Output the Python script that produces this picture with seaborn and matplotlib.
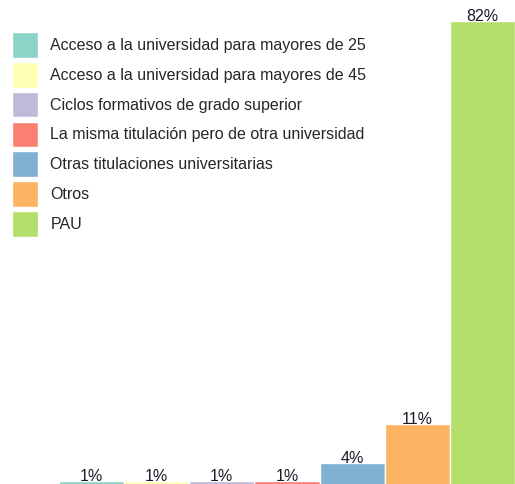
import numpy as np
import matplotlib
matplotlib.use("Agg")
import matplotlib.pyplot as plt
from matplotlib.patches import Patch
import seaborn as sns
import pandas as pd

categorias = ["Acceso a la universidad para mayores de 25",
              "Acceso a la universidad para mayores de 45",
              "Ciclos formativos de grado superior",
              "La misma titulación pero de otra universidad",
              "Otras titulaciones universitarias",
              "Otros",
              "PAU"]
porcentajes = [0.7, 0.7, 0.7, 0.7, 3.9, 10.8, 82.4]
etiquetas = ["1%", "1%", "1%", "1%", "4%", "11%", "82%"]

sns.set_style("white")
plt.rcParams['font.family'] = ['Liberation Sans', 'DejaVu Sans']

colores = sns.color_palette("Set3", len(categorias))
df = pd.DataFrame({"cat": categorias, "pct": porcentajes})

fig = plt.figure(figsize=(5.15, 4.84), dpi=100)
ax = fig.add_axes([59/515, -1/484, 456/515, 464/484])
sns.barplot(data=df, x="cat", y="pct", hue="cat", palette=colores, order=categorias,
            hue_order=categorias, dodge=False, width=1.0, saturation=1,
            edgecolor="white", linewidth=1, legend=False, ax=ax)
ax.set_ylim(0, max(porcentajes))
ax.set_xlim(-0.5, len(categorias) - 0.5)
for cont, lab in zip(ax.containers, etiquetas):
    ax.bar_label(cont, labels=[lab], padding=-2, fontsize=11.5, color="#1a1a2a")
ax.axis("off")

handles = [Patch(facecolor=c, edgecolor="white") for c in colores]
fig.legend(handles, categorias, loc="upper left", bbox_to_anchor=(12/515, 1 - 32/484),
           frameon=False, fontsize=11.5, handlelength=1.65, handleheight=2.1,
           labelspacing=0.26, handletextpad=0.75, borderpad=0, borderaxespad=0)

fig.savefig("out.png", dpi=100)
